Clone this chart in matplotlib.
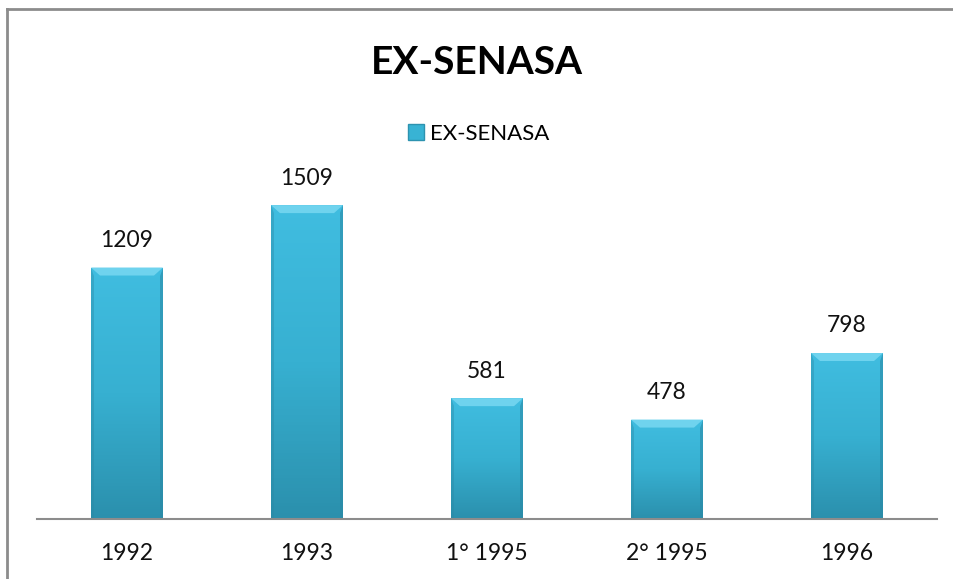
import numpy as np
import matplotlib.pyplot as plt
from matplotlib.patches import Polygon
from matplotlib.lines import Line2D
from matplotlib.colors import LinearSegmentedColormap

categories = ["1992", "1993", "1° 1995", "2° 1995", "1996"]
values = [1209, 1509, 581, 478, 798]
title = "EX-SENASA"
series_name = "EX-SENASA"

plt.rcParams['font.family'] = ['Lato', 'DejaVu Sans']

fig = plt.figure(figsize=(9.54, 5.79), dpi=100)
ax = fig.add_axes([37/954, 60/579, 900/954, 369/579])

x = np.arange(len(categories))
width = 0.4
bars = ax.bar(x, values, width=width, color="#38b3d4", zorder=2)
ax.set_xlim(-0.5, len(categories) - 0.5)
ax.set_ylim(0, 1774)

# bar shading: vertical gradient clipped to each bar, plus a lighter top bevel
cmap = LinearSegmentedColormap.from_list("bar", ["#2b90ad", "#37b0d1", "#40bde0"])
grad = np.linspace(0, 1, 100).reshape(-1, 1)
px_y = 1774 / 369.0
px_x = 5.0 / 900.0
for b in bars:
    x0, w, h = b.get_x(), b.get_width(), b.get_height()
    im = ax.imshow(grad, aspect="auto", cmap=cmap, origin="lower",
                   extent=[x0, x0 + w, 0, h], zorder=2.1)
    im.set_clip_path(b)
    bev = 8 * px_y
    bx = 9 * px_x
    top = Polygon([[x0, h], [x0 + w, h], [x0 + w - bx, h - bev], [x0 + bx, h - bev]],
                  closed=True, facecolor="#6fd3ee", edgecolor="none", zorder=2.2)
    ax.add_patch(top)
    side_r = Polygon([[x0 + w, h], [x0 + w, 0], [x0 + w - 3 * px_x, 0], [x0 + w - 3 * px_x, h - bev]],
                     closed=True, facecolor="#2a89a5", edgecolor="none", zorder=2.2, alpha=0.6)
    ax.add_patch(side_r)
    side_l = Polygon([[x0, h], [x0, 0], [x0 + 3 * px_x, 0], [x0 + 3 * px_x, h - bev]],
                     closed=True, facecolor="#2a89a5", edgecolor="none", zorder=2.2, alpha=0.4)
    ax.add_patch(side_l)
    ax.annotate(str(int(round(h))), (x0 + w / 2, h),
                xytext=(0, 19.5), textcoords="offset points",
                ha="center", va="center", fontsize=16.5, color="#111111")

for s in ["top", "right", "left"]:
    ax.spines[s].set_visible(False)
ax.spines["bottom"].set_color("#8c8c8c")
ax.spines["bottom"].set_linewidth(1.5)
ax.set_yticks([])
ax.set_xticks(x)
ax.set_xticklabels(categories, fontsize=16.5, color="#111111")
ax.tick_params(axis="x", length=0, pad=17)
ax.set_facecolor("none")

fig.text(0.5, 1 - 62/579, title, ha="center", va="center", fontsize=28,
         fontweight="bold", color="black")

handle = Line2D([], [], marker="s", linestyle="none", markersize=11,
                markerfacecolor="#38b3d4", markeredgecolor="#2d93b0")
fig.legend([handle], [series_name], loc="center", bbox_to_anchor=(0.5, 1 - 134/579),
           frameon=False, fontsize=16, handletextpad=0.1, handlelength=1.0)

# chart border (top and left visible)
fig.add_artist(Line2D([7/954, 7/954], [0, 1 - 9/579], transform=fig.transFigure,
                      color="#8c8c8c", linewidth=2))
fig.add_artist(Line2D([7/954, 1], [1 - 9/579, 1 - 9/579], transform=fig.transFigure,
                      color="#8c8c8c", linewidth=2))

fig.savefig("out.png", dpi=100)
